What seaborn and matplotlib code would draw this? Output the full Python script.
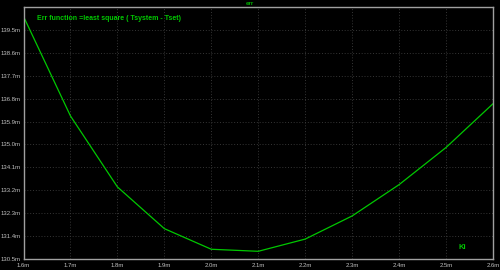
import matplotlib
matplotlib.use("Agg")
import matplotlib.pyplot as plt
import seaborn as sns
import pandas as pd

ki = [1.6, 1.7, 1.8, 1.9, 2.0, 2.1, 2.2, 2.3, 2.4, 2.5, 2.6]
err = [140.03, 136.12, 133.33, 131.69, 130.88, 130.80, 131.28, 132.19, 133.42, 134.88, 136.60]
yticks = [130.5, 131.4, 132.3, 133.2, 134.1, 135.0, 135.9, 136.8, 137.7, 138.6, 139.5]
xticks = [1.6, 1.7, 1.8, 1.9, 2.0, 2.1, 2.2, 2.3, 2.4, 2.5, 2.6]

sns.set_style("dark")
plt.rcParams['font.family'] = ['Liberation Sans', 'DejaVu Sans']

df = pd.DataFrame({"Ki": ki, "err": err})

fig = plt.figure(figsize=(5, 2.7), dpi=100, facecolor="black")
ax = fig.add_axes([0.047, 0.041, 0.939, 0.933])
ax.set_facecolor("black")

sns.lineplot(data=df, x="Ki", y="err", ax=ax, color="#00c800", linewidth=0.9)

ax.set_xlim(1.6, 2.6)
ax.set_ylim(130.5, 140.4)
ax.set_xticks(xticks)
ax.set_xticklabels([f"{v:.1f}m" for v in xticks])
ax.set_yticks(yticks)
ax.set_yticklabels([f"{v:.1f}m" for v in yticks])
ax.set_xlabel("")
ax.set_ylabel("")

ax.grid(True, color="#3c3c3c", linestyle=(0, (1.2, 2.2)), linewidth=0.6)
for s in ax.spines.values():
    s.set_visible(True)
    s.set_color("#a0a0a0")
    s.set_linewidth(1.0)

ax.tick_params(axis="both", colors="#a0a0a0", labelcolor="#c0c0c0",
               labelsize=4.3, length=1.5, width=0.8, pad=0.5, direction="out")
ax.tick_params(axis="x", pad=1.5)

fig.text(0.5, 0.988, "err", color="#00b000", fontsize=4.5, ha="center", va="center", fontweight="bold")
ax.text(0.028, 0.955, "Err function =least square ( Tsystem - Tset)", transform=ax.transAxes,
        color="#00c800", fontsize=5, ha="left", va="center", fontweight="bold")
ax.text(0.934, 0.045, "Ki", transform=ax.transAxes, color="#00c800", fontsize=5.5,
        ha="center", va="center", fontweight="bold")

fig.savefig("out.png", dpi=100, facecolor="black")
